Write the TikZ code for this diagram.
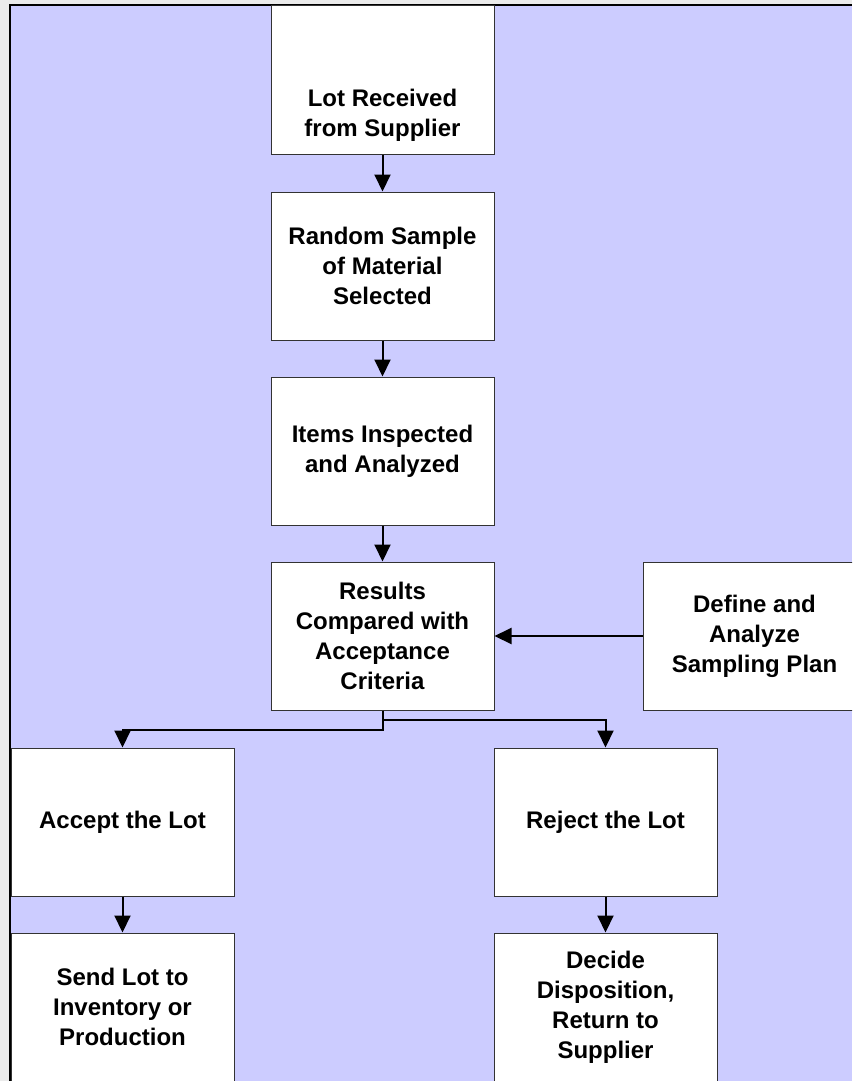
\documentclass[tikz,border=0pt]{standalone}
\usepackage{fontspec}
\setmainfont{Liberation Sans}
\usepackage{xcolor}
\usetikzlibrary{positioning,arrows.meta,calc}
\definecolor{lavender}{HTML}{CCCCFF}
\definecolor{pagegray}{HTML}{EBEBEB}

\begin{document}
\begin{tikzpicture}[x=1pt, y=-1pt,
    steptext/.style={align=center, inner sep=0pt, font=\fontsize{24}{30}\selectfont\bfseries},
    stepbox/.style={steptext, draw=black!80, line width=1pt, fill=white,
                    minimum width=223pt, minimum height=148pt},
    flow/.style={line width=2pt, -{Triangle[length=17pt, width=16pt]}}]
    % page and background
    \useasboundingbox (0,0) rectangle (852,1081);
    \clip (0,0) rectangle (852,1081);
    \fill[pagegray] (0,0) rectangle (852,1081);
    \fill[lavender] (10,5) rectangle (852,1081);
    \draw[line width=2.5pt] (10,1081) -- (10,5) -- (852,5);

    % main column (top box is cut by the frame, its text sits low)
    \node[stepbox] (lot)     at (382.5, 80)  {};
    \node[steptext] (lottext) at ($(lot.center)+(0,35)$) {Lot Received\\from Supplier};
    \node[stepbox] (sample)  at (382.5, 266) {Random Sample\\of Material\\Selected};
    \node[stepbox] (inspect) at (382.5, 451) {Items Inspected\\and Analyzed};
    \node[stepbox] (compare) at (382.5, 636) {Results\\Compared with\\Acceptance\\Criteria};
    \node[stepbox] (plan)    at (754.5, 636) {Define and\\Analyze\\Sampling Plan};

    % outcomes
    \node[stepbox] (accept)  at (122.5, 822)  {Accept the Lot};
    \node[stepbox] (reject)  at (605.5, 822)  {Reject the Lot};
    \node[stepbox] (send)    at (122.5, 1007) {Send Lot to\\Inventory or\\Production};
    \node[stepbox] (decide)  at (605.5, 1007) {Decide\\Disposition,\\Return to\\Supplier};

    % connectors
    \draw[flow] (lot) -- (sample);
    \draw[flow] (sample) -- (inspect);
    \draw[flow] (inspect) -- (compare);
    \draw[flow] (plan) -- (compare);
    \draw[flow] (compare.south) -- ++(0,19) -| (accept.north);
    \draw[flow] (compare.south) -- ++(0,9) -| (reject.north);
    \draw[flow] (accept) -- (send);
    \draw[flow] (reject) -- (decide);
\end{tikzpicture}
\end{document}
